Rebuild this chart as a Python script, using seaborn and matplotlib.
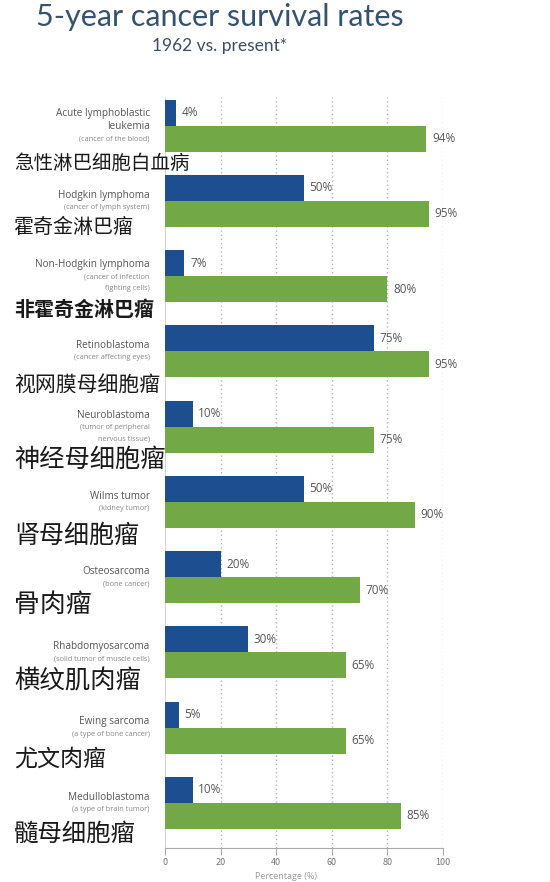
import numpy as np
import pandas as pd
import matplotlib.pyplot as plt
import seaborn as sns

# 数据
cancer_en = ['Acute lymphoblastic\nleukemia', 'Hodgkin lymphoma', 'Non-Hodgkin lymphoma',
             'Retinoblastoma', 'Neuroblastoma', 'Wilms tumor', 'Osteosarcoma',
             'Rhabdomyosarcoma', 'Ewing sarcoma', 'Medulloblastoma']
cancer_note = ['(cancer of the blood)', '(cancer of lymph system)',
               '(cancer of infection\nfighting cells)', '(cancer affecting eyes)',
               '(tumor of peripheral\nnervous tissue)', '(kidney tumor)', '(bone cancer)',
               '(solid tumor of muscle cells)', '(a type of bone cancer)',
               '(a type of brain tumor)']
cancer_cn = ['急性淋巴细胞白血病', '霍奇金淋巴瘤', '非霍奇金淋巴瘤', '视网膜母细胞瘤',
             '神经母细胞瘤', '肾母细胞瘤', '骨肉瘤', '横纹肌肉瘤', '尤文肉瘤', '髓母细胞瘤']
rate_1962 = [4, 50, 7, 75, 10, 50, 20, 30, 5, 10]
rate_now = [94, 95, 80, 95, 75, 90, 70, 65, 65, 85]
periods = ['1962', 'present']

# 样式
cn_sizes = [14, 14.4, 14.4, 15, 18.2, 18, 18.6, 18.3, 16.6, 17.6]
cn_weights = ['normal', 'normal', 'bold'] + ['normal'] * 7
cn_offset_px = [38, 27, 33, 33, 33, 34, 27, 29, 31, 31]  # 中文标签相对组中心的下移
colors = {'1962': '#1d4e8f', 'present': '#72a845'}

df = pd.DataFrame({
    'cancer': cancer_cn * 2,
    'rate': rate_1962 + rate_now,
    'period': [periods[0]] * len(cancer_cn) + [periods[1]] * len(cancer_cn),
})

sns.set_theme(style='white')
plt.rcParams['font.family'] = ['Noto Sans CJK SC', 'DejaVu Sans']
latin = ['Open Sans', 'DejaVu Sans']

fig = plt.figure(figsize=(5.5, 8.82), dpi=100)
ax = fig.add_axes([165 / 550, 34 / 882, 278 / 550, 751 / 882])

sns.barplot(data=df, x='rate', y='cancer', hue='period', palette=colors,
            orient='h', width=0.69, saturation=1, ax=ax, legend=False,
            linewidth=0, zorder=3)

ax.set_xlim(0, 100)
ax.set_ylim(9.6, -0.38)
ax.set_xticks([0, 20, 40, 60, 80, 100])
ax.tick_params(axis='x', labelsize=6.5, labelcolor='#777777', colors='#aaaaaa',
               length=5, width=0.8, direction='out', pad=2, bottom=True)
ax.set_yticks([])
ax.set_ylabel('')
ax.set_xlabel('')

for x in [20, 40, 60, 80, 100]:
    ax.axvline(x, color='#b5b5b5', linestyle=(0, (1, 2)), linewidth=1, zorder=1)

for s in ['top', 'right']:
    ax.spines[s].set_visible(False)
ax.spines['left'].set_color('#cccccc')
ax.spines['left'].set_linewidth(0.6)
ax.spines['bottom'].set_color('#aaaaaa')
ax.spines['bottom'].set_linewidth(0.8)

# 数值标签
for cont in ax.containers:
    ax.bar_label(cont, labels=[f'{int(v)}%' for v in cont.datavalues],
                 padding=4, fontsize=8.5, color='#555555', family=latin)

# 左侧英文与中文标签
px_per_unit = 751 / 9.98
for i in range(len(cancer_en)):
    lines = [(t, 7.2, '#555555') for t in cancer_en[i].split('\n')]
    lines += [(t, 5.3, '#888888') for t in cancer_note[i].split('\n')]
    heights = [13 if sz > 6 else 11.5 for _, sz, _ in lines]
    top = -sum(heights) / 2
    for (t, sz, c), h in zip(lines, heights):
        yc = top + h / 2
        ax.annotate(t, xy=(-0.055, i), xycoords=('axes fraction', 'data'),
                    xytext=(0, -yc * 0.72), textcoords='offset points',
                    ha='right', va='center', fontsize=sz, color=c, family=latin)
        top += h
    ax.annotate(cancer_cn[i], xy=(14 / 550, i + cn_offset_px[i] / px_per_unit),
                xycoords=(fig.transFigure, 'data'), ha='left', va='center',
                fontsize=cn_sizes[i], fontweight=cn_weights[i], color='#1a1a1a',
                annotation_clip=False)

# 标题
fig.text(0.4, 1 - 17 / 882, '5-year cancer survival rates', ha='center', va='center',
         fontsize=22, color='#35536e', family=['Lato', 'Open Sans', 'DejaVu Sans'])
fig.text(0.4, 1 - 46 / 882, '1962 vs. present*', ha='center', va='center',
         fontsize=12.5, color='#3f4e5e', family=['Lato', 'Open Sans', 'DejaVu Sans'])
fig.text(0.52, 1 / 882, 'Percentage (%)', ha='center', va='bottom',
         fontsize=6.5, color='#999999', family=latin)

plt.savefig('out.png', dpi=100)
